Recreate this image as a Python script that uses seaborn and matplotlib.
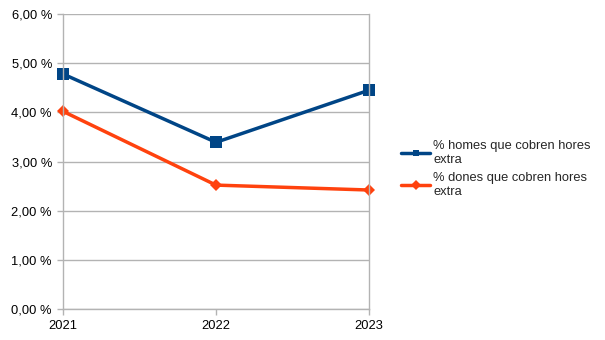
import matplotlib
matplotlib.use("Agg")
import matplotlib.pyplot as plt
import seaborn as sns
import pandas as pd

years = ["2021", "2022", "2023"]
homes = [4.78, 3.39, 4.45]
dones = [4.02, 2.52, 2.42]
series_names = ["% homes que cobren hores\nextra", "% dones que cobren hores\nextra"]
yticks = [0, 1, 2, 3, 4, 5, 6]
ytick_labels = ["0,00 %", "1,00 %", "2,00 %", "3,00 %", "4,00 %", "5,00 %", "6,00 %"]

sns.set_theme(style="white")
plt.rcParams['font.family'] = ['Liberation Sans', 'DejaVu Sans']

df = pd.DataFrame({
    "year": list(range(len(years))) * 2,
    "value": homes + dones,
    "series": [series_names[0]] * 3 + [series_names[1]] * 3,
})

fig = plt.figure(figsize=(6.05, 3.4), dpi=100)
ax = fig.add_axes([63/605, 1 - 309/340, (369-63)/605, (309-14)/340])

colors = {series_names[0]: "#004586", series_names[1]: "#ff420e"}
sns.lineplot(data=df, x="year", y="value", hue="series", style="series",
             markers={series_names[0]: "s", series_names[1]: "D"}, dashes=False,
             palette=colors, linewidth=2.5, markersize=8, markeredgewidth=0, ax=ax)
for line in ax.get_lines():
    line.set_clip_on(False)
    if line.get_marker() == "D":
        line.set_markersize(6.5)

ax.set_xlim(0, 2)
ax.set_ylim(0, 6)
ax.set_xticks(range(len(years)))
ax.set_xticklabels(years)
ax.set_yticks(yticks)
ax.set_yticklabels(ytick_labels)
ax.yaxis.grid(True, color="#b3b3b3", linewidth=1)
ax.set_axisbelow(True)
for s in ["left", "bottom", "right"]:
    ax.spines[s].set_visible(True)
    ax.spines[s].set_color("#b3b3b3")
    ax.spines[s].set_linewidth(1)
ax.spines["top"].set_visible(False)
ax.tick_params(axis="both", which="both", length=4, color="#b3b3b3", width=1,
               labelsize=9.3, labelcolor="#000000", direction="out",
               left=True, bottom=True)
ax.tick_params(axis="y", pad=4)
ax.tick_params(axis="x", pad=4)
ax.set_xlabel("")
ax.set_ylabel("")

handles, labels = ax.get_legend_handles_labels()
for h in handles:
    h.set_markersize(5)
    h.set_linewidth(2.5)
leg = ax.legend(handles, labels, loc="center left", bbox_to_anchor=(395/605, 171/340),
          bbox_transform=fig.transFigure, frameon=False, fontsize=9.3,
          handlelength=2.2, handletextpad=0.25, labelspacing=0.45, borderpad=0)

fig.savefig("out.png", dpi=100)
